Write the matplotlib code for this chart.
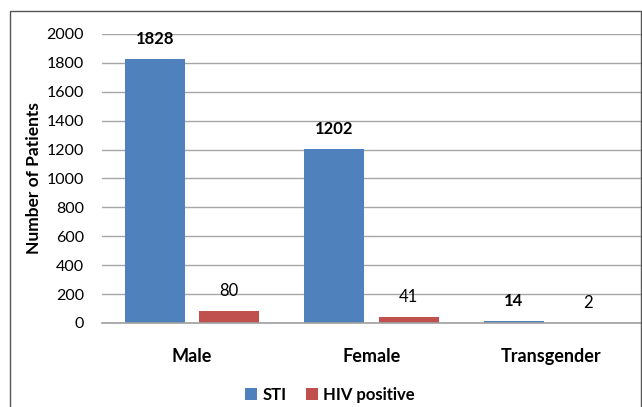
import numpy as np
import matplotlib.pyplot as plt
from matplotlib.patches import Rectangle

categories = ['Male', 'Female', 'Transgender']
sti = [1828, 1202, 14]
hiv = [80, 41, 2]
series_names = ['STI', 'HIV positive']

plt.rcParams['font.family'] = ['Lato', 'DejaVu Sans']

fig = plt.figure(figsize=(6.42, 4.07), dpi=100)
ax = fig.add_axes([102/642, 84/407, 539/642, 289/407])

x = np.arange(len(categories))
w = 0.333
off = 0.207
b1 = ax.bar(x - off, sti, w, color='#4F81BD', label=series_names[0])
b2 = ax.bar(x + off, hiv, w, color='#C0504D', label=series_names[1])

for xi, v in zip(x - off, sti):
    ax.annotate(str(v), (xi, v), xytext=(0, 12), textcoords='offset pixels',
                ha='center', va='bottom', fontsize=12, fontweight='bold')
for xi, v in zip(x + off, hiv):
    ax.annotate(str(v), (xi, v), xytext=(0, 12), textcoords='offset pixels',
                ha='center', va='bottom', fontsize=12)

ax.set_xlim(-0.5, 2.5)
ax.set_ylim(0, 2000)
ax.set_yticks(range(0, 2001, 200))
ax.yaxis.grid(True, color='#a6a6a6', linewidth=1)
ax.set_axisbelow(True)
for s in ['top', 'right', 'left']:
    ax.spines[s].set_visible(False)
ax.spines['bottom'].set_color('#a0a0a0')
ax.spines['bottom'].set_linewidth(1.2)

ax.set_xticks(x)
ax.set_xticklabels(categories, fontsize=13, fontweight='bold')
ax.tick_params(axis='x', length=0, pad=18)
ax.tick_params(axis='y', length=0, pad=13, labelsize=11.5)

ax.set_ylabel('Number of Patients', fontsize=12.5, fontweight='bold')
ax.yaxis.set_label_coords(-0.112, 0.5)

fig.legend(handles=[b1, b2], loc='center', bbox_to_anchor=(330/642, 1 - 395/407),
           ncol=2, frameon=False, prop={'weight': 'bold', 'size': 12},
           handlelength=0.7, handleheight=0.7, handletextpad=0.3, columnspacing=1.2)

fig.patches.append(Rectangle((10/642, -0.05), 631/642, 1.05 - 11/407,
                             transform=fig.transFigure, fill=False,
                             edgecolor='#555555', linewidth=1))

fig.savefig('out.png', dpi=100)
